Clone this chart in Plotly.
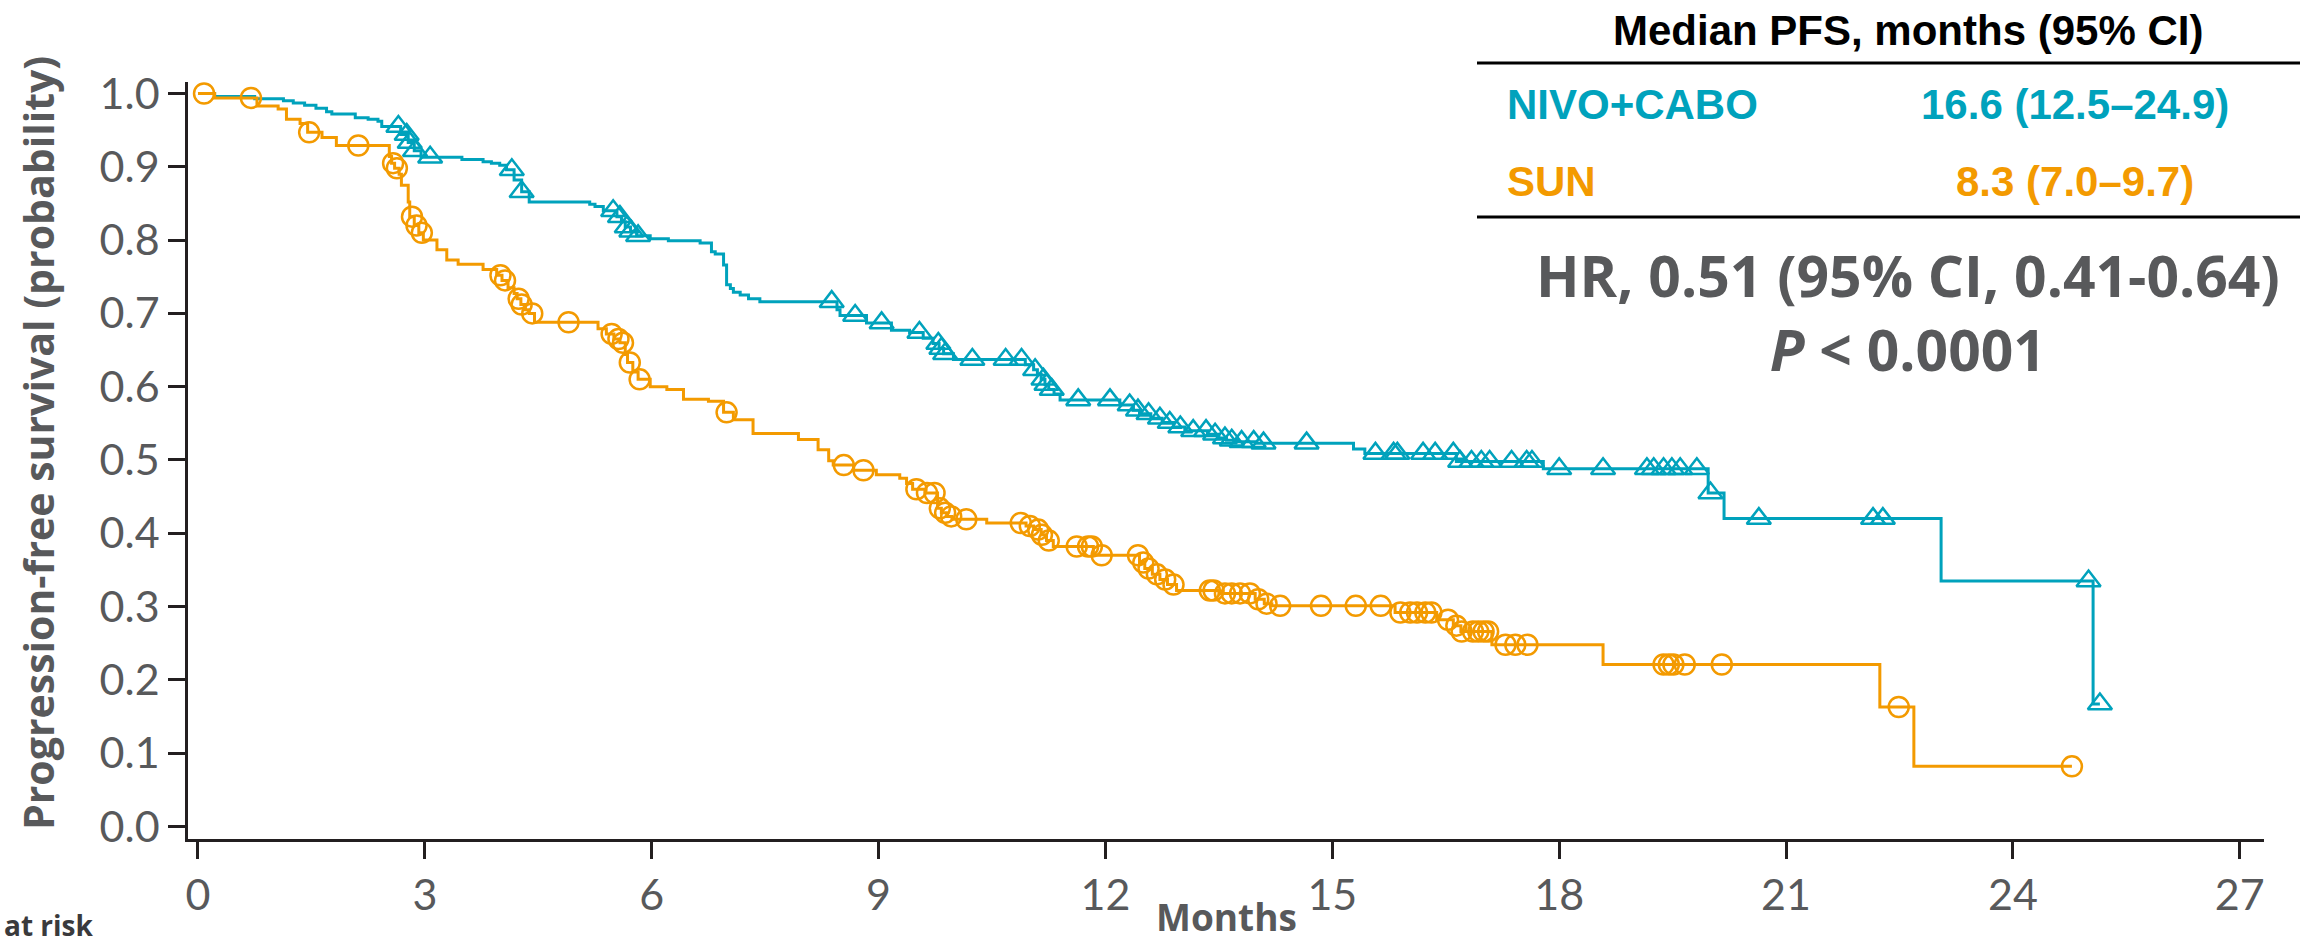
import plotly.graph_objects as go

# ---- Kaplan-Meier data (months, progression-free survival probability) ----
nivo_event_t = [0.22, 0.75, 1.13, 1.26, 1.41, 1.56, 1.70, 1.77, 2.08, 2.25, 2.38, 2.43,
                2.68, 2.78, 2.86, 2.95, 3.49, 3.77, 3.88, 3.99, 4.08, 4.18, 4.28, 4.38,
                5.18, 5.25, 5.36, 5.54, 5.60, 5.65, 5.72, 5.80, 5.98, 6.22, 6.64, 6.79,
                6.84, 6.95, 6.99, 7.04, 7.08, 7.17, 7.28, 7.43, 8.45, 8.49, 8.84, 9.17,
                9.41, 9.59, 9.72, 9.80, 9.86, 9.99, 10.94, 11.05, 11.10, 11.15, 11.20,
                11.25, 11.32, 11.40, 12.19, 12.37, 12.45, 12.60, 12.75, 12.90, 13.05,
                13.35, 13.50, 13.60, 13.75, 14.00, 15.28, 15.43, 16.64, 17.79, 19.97,
                20.18, 23.05, 25.06]
nivo_event_s = [0.996, 0.993, 0.990, 0.987, 0.984, 0.980, 0.975, 0.972, 0.967, 0.965, 0.962, 0.955,
                0.944, 0.933, 0.922, 0.913, 0.910, 0.907, 0.905, 0.902, 0.896, 0.882, 0.866, 0.852,
                0.849, 0.846, 0.840, 0.832, 0.825, 0.818, 0.812, 0.806, 0.802, 0.799, 0.796, 0.784,
                0.781, 0.766, 0.739, 0.734, 0.729, 0.725, 0.720, 0.716, 0.705, 0.697, 0.687, 0.677,
                0.674, 0.666, 0.659, 0.652, 0.645, 0.637, 0.630, 0.623, 0.617, 0.610, 0.603,
                0.596, 0.590, 0.582, 0.575, 0.568, 0.563, 0.557, 0.551, 0.545, 0.540,
                0.535, 0.530, 0.527, 0.525, 0.523, 0.515, 0.509, 0.498, 0.488, 0.455,
                0.420, 0.335, 0.167]
nivo_censor_t = [2.65, 2.76, 2.80, 2.87, 3.07, 4.15, 4.28, 5.49, 5.58, 5.67, 5.73, 5.82,
                 8.38, 8.69, 9.04, 9.54, 9.79, 9.83, 9.88, 10.24, 10.68, 10.89, 11.07, 11.18,
                 11.22, 11.29, 11.64, 12.06, 12.32, 12.43, 12.57, 12.72, 12.85, 12.99, 13.16,
                 13.33, 13.45, 13.58, 13.67, 13.80, 13.96, 14.09, 14.66, 15.57, 15.81, 15.86,
                 16.20, 16.36, 16.60, 16.69, 16.84, 16.97, 17.08, 17.37, 17.57, 17.64, 18.00,
                 18.58, 19.16, 19.25, 19.38, 19.49, 19.60, 19.82, 20.00, 20.64, 22.15, 22.28,
                 25.00, 25.15]

sun_event_t = [0.22, 0.78, 1.06, 1.17, 1.35, 1.45, 1.64, 1.83, 2.53, 2.56, 2.60, 2.66,
               2.69, 2.78, 2.80, 2.86, 2.92, 2.98, 3.16, 3.29, 3.44, 3.77, 3.95, 4.02,
               4.10, 4.18, 4.22, 4.27, 4.33, 4.38, 4.45, 5.29, 5.40, 5.50, 5.58, 5.65,
               5.68, 5.75, 5.82, 5.98, 6.20, 6.42, 6.75, 6.95, 7.08, 7.34, 7.94, 8.20,
               8.34, 8.40, 8.67, 8.97, 9.28, 9.37, 9.45, 9.62, 9.78, 9.83, 9.90, 9.97,
               10.43, 10.95, 11.05, 11.15, 11.22, 11.31, 11.84, 12.45, 12.52, 12.62, 12.72,
               12.82, 12.94, 13.50, 13.98, 14.10, 14.20, 15.83, 16.38, 16.60, 16.70, 17.11,
               18.58, 22.24, 22.69]
sun_event_s = [0.994, 0.983, 0.979, 0.965, 0.959, 0.947, 0.940, 0.929, 0.914, 0.905, 0.898, 0.890,
               0.875, 0.852, 0.832, 0.820, 0.810, 0.800, 0.787, 0.773, 0.767, 0.760, 0.752, 0.745,
               0.735, 0.727, 0.720, 0.712, 0.705, 0.700, 0.688, 0.679, 0.672, 0.665, 0.660, 0.644,
               0.633, 0.620, 0.610, 0.600, 0.596, 0.583, 0.580, 0.565, 0.555, 0.536, 0.528, 0.514,
               0.499, 0.493, 0.486, 0.480, 0.475, 0.468, 0.460, 0.455, 0.434, 0.428, 0.423, 0.419,
               0.414, 0.410, 0.405, 0.398, 0.390, 0.382, 0.370, 0.360, 0.352, 0.344, 0.337,
               0.330, 0.322, 0.318, 0.310, 0.304, 0.301, 0.292, 0.282, 0.274, 0.266, 0.248,
               0.221, 0.163, 0.082]
sun_censor_t = [0.08, 0.70, 1.47, 2.12, 2.58, 2.63, 2.83, 2.89, 2.96, 4.00, 4.06, 4.24,
                4.28, 4.42, 4.90, 5.47, 5.56, 5.62, 5.71, 5.84, 6.99, 8.54, 8.80, 9.50,
                9.64, 9.74, 9.81, 9.88, 9.96, 10.16, 10.88, 11.00, 11.11, 11.16, 11.25, 11.62,
                11.77, 11.82, 11.95, 12.43, 12.50, 12.57, 12.68, 12.79, 12.90, 13.38, 13.43,
                13.58, 13.67, 13.78, 13.91, 14.02, 14.13, 14.31, 14.85, 15.31, 15.64, 15.90,
                16.03, 16.12, 16.23, 16.31, 16.53, 16.64, 16.71, 16.86, 16.93, 17.00, 17.06,
                17.29, 17.42, 17.58, 19.38, 19.45, 19.51, 19.66, 20.15, 22.49, 24.78]

x_ticks = [0, 3, 6, 9, 12, 15, 18, 21, 24, 27]
y_ticks = [0.0, 0.1, 0.2, 0.3, 0.4, 0.5, 0.6, 0.7, 0.8, 0.9, 1.0]

arms = ["NIVO+CABO", "SUN"]
median_text = ["16.6 (12.5\u201324.9)", "8.3 (7.0\u20139.7)"]
hr_text = "HR, 0.51 (95% CI, 0.41-0.64)"
p_text = "<i>P</i> &lt; 0.0001"

TEAL = "#00A2BC"
ORANGE = "#F39A00"
GRAY = "#58595B"
AXIS = "#231F20"

W, H = 2300, 943
ML, MR, MT, MB = 188, 36, 82, 104
PW, PH = W - ML - MR, H - MT - MB


def px(x):
    return (x - ML) / PW


def py(y):
    return (H - MB - y) / PH


def level_at(times, levels, t):
    s = 1.0
    for ti, si in zip(times, levels):
        if ti <= t:
            s = si
        else:
            break
    return s


def km_curve(times, levels, end):
    xs = [0.0] + list(times) + [end]
    ys = [1.0] + list(levels) + [levels[-1]]
    return xs, ys


fig = go.Figure()

series = [
    (nivo_event_t, nivo_event_s, nivo_censor_t, TEAL, "triangle-up-open", 21),
    (sun_event_t, sun_event_s, sun_censor_t, ORANGE, "circle-open", 20),
]
for (et, es, ct, col, sym, msize), name in zip(series, arms):
    end = max(max(ct), et[-1])
    xs, ys = km_curve(et, es, end)
    fig.add_trace(go.Scatter(x=xs, y=ys, mode="lines", name=name,
                             line=dict(color=col, width=3, shape="hv"),
                             showlegend=False, hoverinfo="skip"))
    fig.add_trace(go.Scatter(x=ct, y=[level_at(et, es, t) for t in ct], mode="markers",
                             name=name + " censored",
                             marker=dict(symbol=sym, size=msize, color=col,
                                         line=dict(color=col, width=2.5)),
                             showlegend=False))

tick_font = dict(family="Lato", size=43, color=GRAY)
fig.update_xaxes(range=[-0.132, 27.32], tickvals=x_ticks, ticktext=[str(v) for v in x_ticks],
                 ticks="outside", ticklen=17, tickwidth=2.5, tickcolor=AXIS,
                 showline=True, linecolor=AXIS, linewidth=2.5,
                 showgrid=False, zeroline=False, tickfont=tick_font)
fig.update_yaxes(range=[-0.0171, 1.0157], tickvals=y_ticks, ticktext=[f"{v:.1f}" for v in y_ticks],
                 ticks="outside", ticklen=17, tickwidth=2.5, tickcolor=AXIS,
                 showline=True, linecolor=AXIS, linewidth=2.5,
                 showgrid=False, zeroline=False, tickfont=tick_font)

title_font = dict(family="Open Sans", size=41, color=GRAY, weight="bold")
table_font = dict(family="Liberation Sans", size=42, weight="bold")
stat_font = dict(family="Open Sans", size=57, color=GRAY, weight="bold")

annotations = [
    dict(text="Progression-free survival (probability)", x=px(38), y=py(443),
         textangle=-90, font=title_font, xanchor="center", yanchor="middle"),
    dict(text="Months", x=px(1226), y=py(916), font=dict(family="Open Sans", size=37,
         color=GRAY, weight="bold"), xanchor="center", yanchor="middle"),
    dict(text="at risk", x=px(2), y=py(925), font=dict(family="Open Sans", size=28,
         color="#3A3A3C", weight="bold"), xanchor="left", yanchor="middle"),
    dict(text="Median PFS, months (95% CI)", x=px(1908), y=py(30),
         font=dict(color="#000000", **table_font), xanchor="center", yanchor="middle"),
    dict(text=arms[0], x=px(1505), y=py(104), font=dict(color=TEAL, **table_font),
         xanchor="left", yanchor="middle"),
    dict(text=median_text[0], x=px(2075), y=py(104), font=dict(color=TEAL, **table_font),
         xanchor="center", yanchor="middle"),
    dict(text=arms[1], x=px(1505), y=py(182), font=dict(color=ORANGE, **table_font),
         xanchor="left", yanchor="middle"),
    dict(text=median_text[1], x=px(2075), y=py(182), font=dict(color=ORANGE, **table_font),
         xanchor="center", yanchor="middle"),
    dict(text=hr_text + "<br>" + p_text, x=px(1908), y=py(312), font=stat_font,
         xanchor="center", yanchor="middle", align="center"),
]
for a in annotations:
    a.update(xref="paper", yref="paper", showarrow=False)

shapes = [
    dict(type="line", xref="paper", yref="paper", x0=px(1477), x1=px(2300), y0=py(63), y1=py(63),
         line=dict(color="#000000", width=3)),
    dict(type="line", xref="paper", yref="paper", x0=px(1477), x1=px(2300), y0=py(217), y1=py(217),
         line=dict(color="#000000", width=3)),
]

fig.update_layout(width=W, height=H, margin=dict(l=ML, r=MR, t=MT, b=MB),
                  paper_bgcolor="white", plot_bgcolor="white",
                  annotations=annotations, shapes=shapes, showlegend=False)

fig.write_html("out.html")
